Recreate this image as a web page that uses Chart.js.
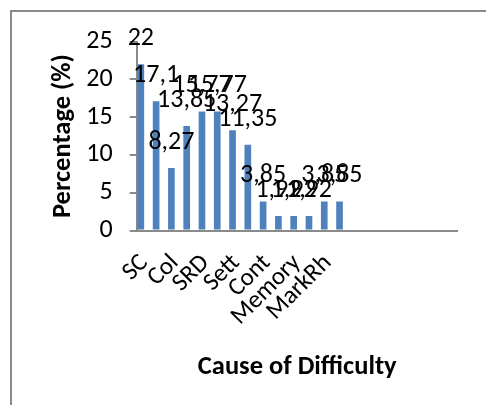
<!DOCTYPE html>
<html>
<head>
<meta charset="utf-8">
<script src="https://cdn.jsdelivr.net/npm/chart.js@4.4.1/dist/chart.umd.min.js"></script>
<style>
  html, body { margin: 0; padding: 0; background: #fff; }
  #frame {
    position: absolute; left: 10px; top: 10px; width: 500px; height: 420px;
    border-left: 2px solid #8a8a8a; border-top: 2px solid #8a8a8a;
  }
  #wrap { position: absolute; left: 0; top: 0; width: 486px; height: 405px; }
</style>
</head>
<body>
<div id="frame"></div>
<div id="wrap"><canvas id="difficultyChart"></canvas></div>
<script>
// only every other category carries a visible name in the original
const categories = ["SC", "", "Col", "", "SRD", "", "Sett", "", "Cont", "", "Memory", "", "MarkRh", "",
                    "", "", "", "", "", "", ""];
const percentages = [22, 17.1, 8.27, 13.85, 15.77, 15.77, 13.27, 11.35, 3.85, 1.92, 1.92, 1.92, 3.85, 3.85,
                     null, null, null, null, null, null, null];
const emptySeries = [];   // second series of the sheet, has no values
const yTicks = [0, 5, 10, 15, 20, 25];

const FONT = "Carlito, Calibri, Lato, sans-serif";

const valueLabels = {
    id: "valueLabels",
    afterDatasetsDraw(chart) {
        const ctx = chart.ctx;
        const meta = chart.getDatasetMeta(0);
        ctx.save();
        ctx.font = "26px " + FONT;
        ctx.fillStyle = "#000";
        ctx.textAlign = "center";
        ctx.textBaseline = "alphabetic";
        meta.data.forEach(function (bar, i) {
            const v = percentages[i];
            if (v === null || v === undefined) return;
            ctx.fillText(String(v).replace(".", ","), bar.x, bar.y - 19);
        });
        ctx.restore();
    }
};

document.addEventListener("DOMContentLoaded", function () {
    const ctx = document.getElementById("difficultyChart").getContext("2d");

    new Chart(ctx, {
        type: "bar",
        data: {
            labels: categories,
            datasets: [{
                label: "Percentage",
                data: percentages,
                backgroundColor: "#4F81BD",
                categoryPercentage: 0.92,
                barPercentage: 0.95
            }, {
                label: "",
                data: emptySeries,
                backgroundColor: "#C0504D",
                categoryPercentage: 0.92,
                barPercentage: 0.95
            }]
        },
        options: {
            responsive: true,
            maintainAspectRatio: false,
            animation: false,
            layout: { padding: { top: 41.7, right: 28.3, left: 0, bottom: 0 } },
            plugins: {
                legend: { display: false },
                tooltip: { enabled: false }
            },
            scales: {
                x: {
                    grid: { display: false },
                    border: { display: true, color: "#8a8a8a", width: 2 },
                    ticks: {
                        autoSkip: false,
                        maxRotation: 45,
                        minRotation: 45,
                        padding: 10,
                        color: "#000",
                        font: { family: FONT, size: 25 }
                    },
                    title: {
                        display: true,
                        text: "Cause of Difficulty",
                        color: "#000",
                        font: { family: FONT, size: 26.5, weight: "bold" },
                        padding: { top: 0, bottom: 22 }
                    },
                    afterFit: function (scale) { scale.height = 405 - 230.5; }
                },
                y: {
                    min: 0,
                    max: 25,
                    afterBuildTicks: function (scale) {
                        scale.ticks = yTicks.map(function (v) { return { value: v }; });
                    },
                    grid: {
                        drawOnChartArea: false,
                        drawTicks: true,
                        tickLength: 7,
                        color: "#8a8a8a",
                        lineWidth: 2
                    },
                    border: { display: true, color: "#8a8a8a", width: 2 },
                    ticks: {
                        padding: 17,
                        color: "#000",
                        font: { family: FONT, size: 26 }
                    },
                    title: {
                        display: true,
                        text: "Percentage (%)",
                        color: "#000",
                        font: { family: FONT, size: 26.5, weight: "bold" },
                        padding: { top: 47, bottom: 0 }
                    },
                    afterFit: function (scale) { scale.width = 136.7; }
                }
            }
        },
        plugins: [valueLabels]
    });
});
</script>
</body>
</html>
